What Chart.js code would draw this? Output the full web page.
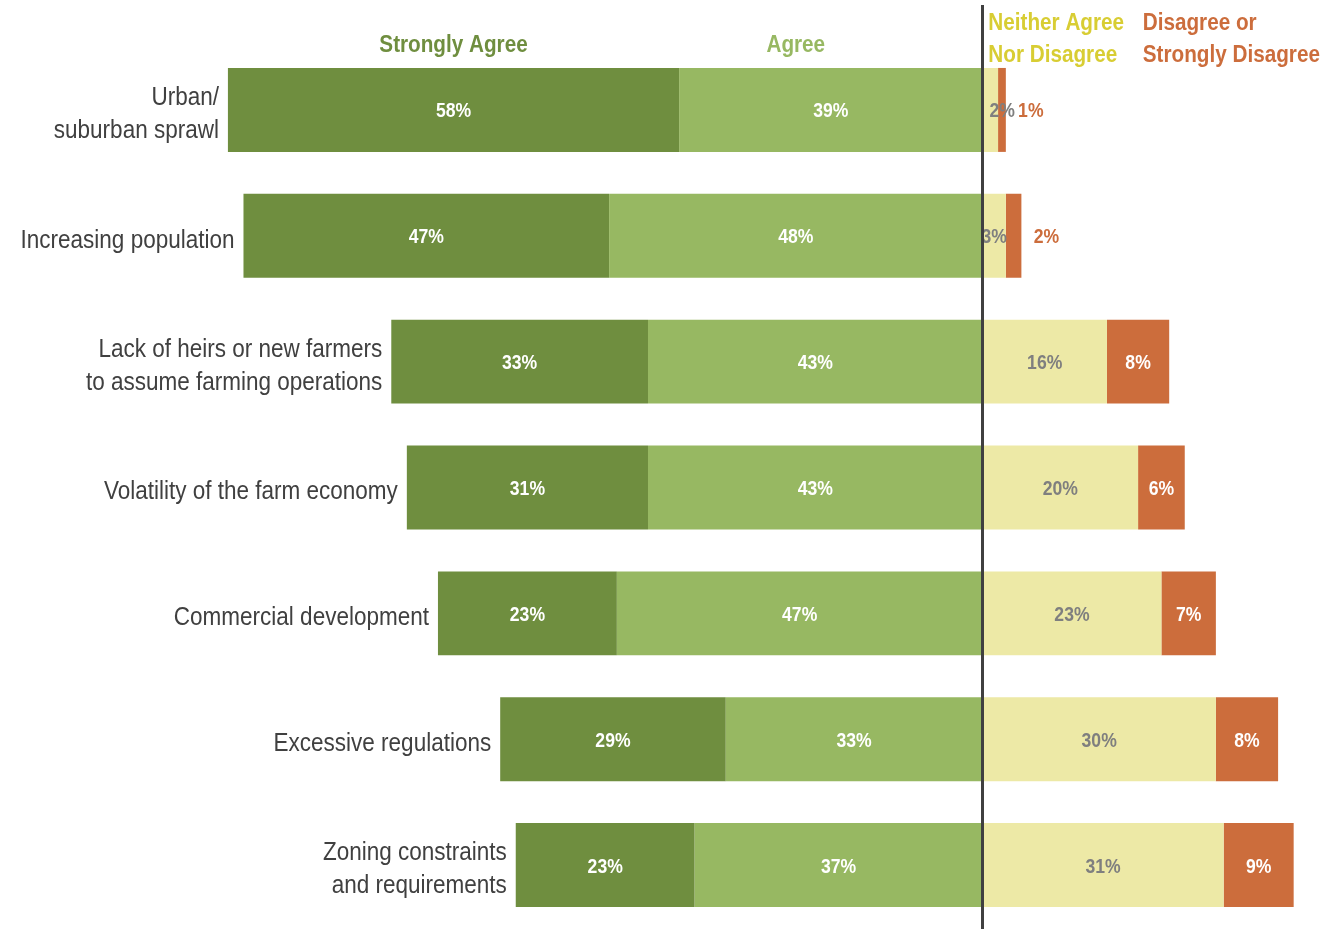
<!DOCTYPE html>
<html>
<head>
<meta charset="utf-8">
<script src="https://cdn.jsdelivr.net/npm/chart.js@4.4.1/dist/chart.umd.min.js"></script>
<style>
html,body{margin:0;padding:0;background:#fff;}
#wrap{width:1324px;height:929px;position:relative;}
</style>
</head>
<body>
<div id="wrap"><canvas id="c" width="1324" height="929"></canvas></div>
<script>
const categories = [
  ["Urban/", "suburban sprawl"],
  ["Increasing population"],
  ["Lack of heirs or new farmers", "to assume farming operations"],
  ["Volatility of the farm economy"],
  ["Commercial development"],
  ["Excessive regulations"],
  ["Zoning constraints", "and requirements"]
];
const stronglyAgree = [58, 47, 33, 31, 23, 29, 23];
const agree         = [39, 48, 43, 43, 47, 33, 37];
const neither       = [2, 3, 16, 20, 23, 30, 31];
const disagree      = [1, 2, 8, 6, 7, 8, 9];
const seriesNames = ["Strongly Agree", "Agree", ["Neither Agree", "Nor Disagree"], ["Disagree or", "Strongly Disagree"]];

const COL_SA = '#6F8E3F', COL_A = '#97B862', COL_N = '#EDE9A6', COL_D = '#CC6D3C';
const HEAD_N = '#D8CD33';
const FONT = '"Liberation Sans", Arial, sans-serif';

function txt(ctx, s, x, y, align, sx) {
  ctx.save();
  ctx.translate(x, y);
  ctx.scale(sx, 1);
  ctx.textAlign = align;
  ctx.fillText(s, 0, 0);
  ctx.restore();
}

const overlay = {
  id: 'overlay',
  afterDatasetsDraw(chart) {
    const ctx = chart.ctx, xs = chart.scales.x, ys = chart.scales.y;
    const x0 = xs.getPixelForValue(0);
    ctx.save();
    ctx.textBaseline = 'middle';
    categories.forEach((cat, i) => {
      const yc = ys.getPixelForValue(i);
      const y = yc + 2;
      const a = agree[i], sa = stronglyAgree[i], n = neither[i], d = disagree[i];
      ctx.font = 'bold 20px ' + FONT;
      ctx.fillStyle = '#ffffff';
      txt(ctx, sa + '%', xs.getPixelForValue(-(a + sa / 2)), y, 'center', 0.88);
      txt(ctx, a + '%', xs.getPixelForValue(-a / 2), y, 'center', 0.88);
      ctx.fillStyle = '#7F7F7F';
      txt(ctx, n + '%', xs.getPixelForValue(n / 2) + (n < 3 ? 12 : 0), y, 'center', 0.88);
      if (d >= 4) {
        ctx.fillStyle = '#ffffff';
        txt(ctx, d + '%', xs.getPixelForValue(n + d / 2), y, 'center', 0.88);
      } else {
        ctx.fillStyle = COL_D;
        txt(ctx, d + '%', xs.getPixelForValue(n + d) + 25, y, 'center', 0.88);
      }
      // category labels, right-aligned next to bar start
      ctx.fillStyle = '#404040';
      ctx.font = '25px ' + FONT;
      const xl = xs.getPixelForValue(-(a + sa)) - 9;
      const lh = 33;
      const startY = yc + 5 - (cat.length - 1) * lh / 2;
      cat.forEach((line, k) => txt(ctx, line, xl, startY + k * lh, 'right', 0.9));
    });
    // headers
    ctx.font = 'bold 23px ' + FONT;
    ctx.fillStyle = COL_SA;
    txt(ctx, seriesNames[0], xs.getPixelForValue(-68), 46, 'center', 0.9);
    ctx.fillStyle = COL_A;
    txt(ctx, seriesNames[1], xs.getPixelForValue(-24), 46, 'center', 0.9);
    ctx.fillStyle = HEAD_N;
    seriesNames[2].forEach((t, k) => txt(ctx, t, xs.getPixelForValue(0.75), 24 + k * 32, 'left', 0.9));
    ctx.fillStyle = COL_D;
    seriesNames[3].forEach((t, k) => txt(ctx, t, xs.getPixelForValue(20.6), 24 + k * 32, 'left', 0.9));
    // center line
    ctx.strokeStyle = '#404040';
    ctx.lineWidth = 3;
    ctx.beginPath();
    ctx.moveTo(x0, 5);
    ctx.lineTo(x0, 929);
    ctx.stroke();
    ctx.restore();
  }
};

new Chart(document.getElementById('c'), {
  type: 'bar',
  data: {
    labels: categories.map(c => c.join(' ')),
    datasets: [
      { label: 'Agree', data: agree.map(v => -v), backgroundColor: COL_A },
      { label: 'Strongly Agree', data: stronglyAgree.map(v => -v), backgroundColor: COL_SA },
      { label: 'Neither Agree Nor Disagree', data: neither, backgroundColor: COL_N },
      { label: 'Disagree or Strongly Disagree', data: disagree, backgroundColor: COL_D }
    ]
  },
  options: {
    indexAxis: 'y',
    responsive: false,
    animation: false,
    layout: { padding: { left: 49, right: 7, top: 47, bottom: 1 } },
    datasets: { bar: { barPercentage: 0.667, categoryPercentage: 1, borderWidth: 0 } },
    scales: {
      x: { stacked: true, min: -120, max: 43, display: false },
      y: { stacked: true, display: false }
    },
    plugins: { legend: { display: false }, tooltip: { enabled: false } }
  },
  plugins: [overlay]
});
</script>
</body>
</html>
